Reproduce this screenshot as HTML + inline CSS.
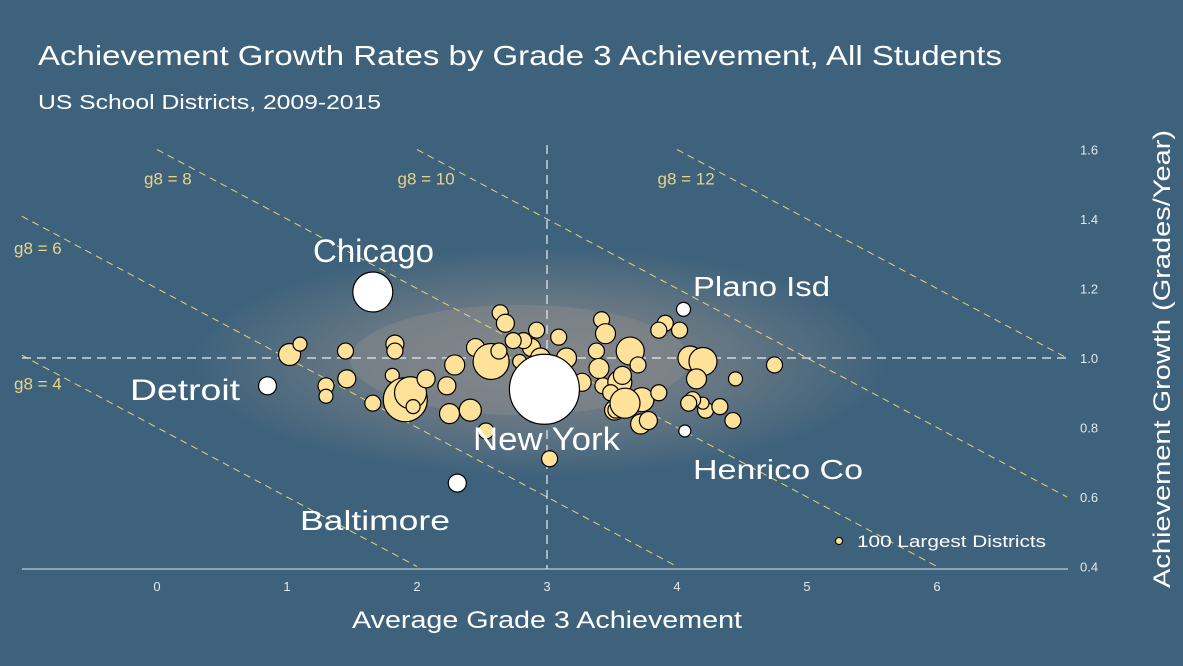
<!DOCTYPE html>
<html><head><meta charset="utf-8"><style>
html,body{margin:0;padding:0;background:#3e627c;overflow:hidden;width:1183px;height:666px;}
svg{display:block;font-family:"Liberation Sans",sans-serif;}
</style></head><body>
<svg id="chart" width="1183" height="666">
<defs>
<radialGradient id="cloud" cx="50%" cy="50%" r="50%">
<stop offset="0%" stop-color="#8c8c8c" stop-opacity="0.85"/>
<stop offset="55%" stop-color="#8a8a8a" stop-opacity="0.5"/>
<stop offset="100%" stop-color="#8a8a8a" stop-opacity="0"/>
</radialGradient>
</defs>
<rect width="1183" height="666" fill="#3e627c"/>
<text x="38" y="65" font-size="28" fill="#ffffff" textLength="964" lengthAdjust="spacingAndGlyphs">Achievement Growth Rates by Grade 3 Achievement, All Students</text>
<text x="38" y="109" font-size="20" fill="#ffffff" textLength="343" lengthAdjust="spacingAndGlyphs">US School Districts, 2009-2015</text>
<ellipse cx="540" cy="362" rx="350" ry="115" fill="url(#cloud)"/>
<ellipse cx="520" cy="360" rx="170" ry="55" fill="#8c8c8c" opacity="0.45"/>
<g id="lines"></g>
<g id="axes"></g>
<g id="marks"></g>
<g id="labels"></g>
<circle cx="839" cy="541" r="3.5" fill="#ffe599" stroke="#000" stroke-width="1"/>
<text x="857" y="547" font-size="17" fill="#ffffff" textLength="189" lengthAdjust="spacingAndGlyphs">100 Largest Districts</text>
<text x="352" y="628" font-size="24" fill="#ffffff" textLength="390" lengthAdjust="spacingAndGlyphs">Average Grade 3 Achievement</text>
<text transform="translate(1170,359) rotate(-90)" font-size="24" fill="#ffffff" text-anchor="middle" textLength="458" lengthAdjust="spacingAndGlyphs">Achievement Growth (Grades/Year)</text>
</svg>
<script>
const xTicks = [0,1,2,3,4,5,6];
const yTicks = [0.4,0.6,0.8,1.0,1.2,1.4,1.6];
const g8Levels = [4,6,8,10,12];
const g8LabelX = [-1.1,-1.1,-0.1,1.85,3.85];
const g8LabelY = [0.91,1.3,1.5,1.5,1.5];
// 100 largest districts: x = grade 3 achievement, y = growth, s = size (radius px)
const bigX = [1.02,1.1,1.45,1.83,1.83,1.3,1.3,1.46,1.66,1.81,1.91,1.95,1.97,2.07,2.23,2.29,2.45,2.58,2.57,2.64,2.68,2.63,2.79,2.88,2.95,2.25,2.41,2.53,2.92,2.82,2.74,3.09,3.15,2.95,3.15,3.42,3.45,3.38,3.43,3.64,3.56,3.58,3.72,3.52,3.49,3.53,3.73,3.78,3.91,3.86,4.02,4.1,4.2,4.15,4.22,4.2,4.12,4.43,4.33,3.02,4.45,4.75,3.4,3.6,3.86,4.09,3.27,3.7];
const bigY = [1.01,1.04,1.02,1.04,1.02,0.92,0.89,0.94,0.87,0.95,0.88,0.9,0.86,0.94,0.92,0.98,1.03,1.01,0.99,1.13,1.1,1.02,0.99,1.03,0.96,0.84,0.85,0.79,1.08,1.05,1.05,1.06,1.0,1.0,0.93,1.11,1.07,1.02,0.92,1.02,0.93,0.95,0.81,0.85,0.9,0.85,0.88,0.82,1.1,1.08,1.08,1.0,0.99,0.94,0.85,0.87,0.88,0.82,0.86,0.71,0.94,0.98,0.97,0.87,0.9,0.87,0.93,0.98];
const bigS = [11,7,8,9,8,8,7,9,8,7,22,16,7,9,9,10,9,8,18,8,9,8,7,9,8,10,11,8,8,8,8,8,10,10,9,8,10,8,8,14,12,9,10,10,8,8,12,9,8,8,8,12,14,10,8,6,8,8,8,8,7,8,10,15,8,8,9,8];
const whiteNames = ["Chicago","Detroit","New York","Baltimore","Plano Isd","Henrico Co"];
const whiteX = [1.66,0.85,2.98,2.31,4.05,4.06];
const whiteY = [1.19,0.92,0.91,0.64,1.14,0.79];
const whiteS = [20,9,35,9,7,6];

const NS="http://www.w3.org/2000/svg";
function X(v){return 157+v*130;}
function Y(v){return 358-(v-1.0)*347.5;}
function mk(tag,attrs,parent){const e=document.createElementNS(NS,tag);for(const k in attrs)e.setAttribute(k,attrs[k]);parent.appendChild(e);return e;}
const lines=document.getElementById('lines'),axes=document.getElementById('axes'),marks=document.getElementById('marks'),labels=document.getElementById('labels');

const XMIN=-1.04, XMAX=7.0, YMIN=0.4, YMAX=1.6;
g8Levels.forEach((g,i)=>{
  // line: y = (g - x)/5, clip to plot box
  let xa=Math.max(XMIN, g-5*YMAX), xb=Math.min(XMAX, g-5*YMIN);
  if(xb>xa){
    const l=mk('line',{x1:X(xa),y1:Y((g-xa)/5),x2:X(xb),y2:Y((g-xb)/5),stroke:'#e6d27a','stroke-width':1,'stroke-dasharray':'7,5'},lines);
    
    
  }
  const t=mk('text',{x:X(g8LabelX[i]),y:Y(g8LabelY[i]),'font-size':17,fill:'#e8d48a'},labels);
  t.textContent='g8 = '+g;
  
  
});
let h=mk('line',{x1:22,y1:Y(1.0),x2:1068,y2:Y(1.0),stroke:'#e8eef2','stroke-width':1.2,'stroke-dasharray':'9,6'},axes);


let v=mk('line',{x1:X(3),y1:145,x2:X(3),y2:569,stroke:'#e8eef2','stroke-width':1.2,'stroke-dasharray':'9,6'},axes);


let ax=mk('line',{x1:22,y1:569,x2:1068,y2:569,stroke:'#dfe8ee','stroke-width':1},axes);


xTicks.forEach(t=>{
  const e=mk('text',{x:X(t),y:591,'font-size':13,fill:'#dfe8ee','text-anchor':'middle'},axes);
  e.textContent=t;
  
  
});
yTicks.forEach(t=>{
  const e=mk('text',{x:1080,y:Y(t)+5,'font-size':13,fill:'#dfe8ee'},axes);
  e.textContent=t.toFixed(1);
  
  
});
bigX.forEach((x,i)=>{
  const c=mk('circle',{cx:X(x),cy:Y(bigY[i]),r:bigS[i],fill:'#ffe299',stroke:'#000','stroke-width':1.2},marks);
  
  
});
const labPos=[[313,262,32,121],[130,400,30,110],[473,450,32,147],[300,530,28,150],[693,296,28,137],[693,479,28,170]];
whiteX.forEach((x,i)=>{
  const c=mk('circle',{cx:X(x),cy:Y(whiteY[i]),r:whiteS[i],fill:'#ffffff',stroke:'#000','stroke-width':1.2},marks);
  
  
  const p=labPos[i];
  const t=mk('text',{x:p[0],y:p[1],'font-size':p[2],fill:'#ffffff',textLength:p[3],lengthAdjust:'spacingAndGlyphs'},labels);
  t.textContent=whiteNames[i];
  
  
});
</script>
</body></html>
